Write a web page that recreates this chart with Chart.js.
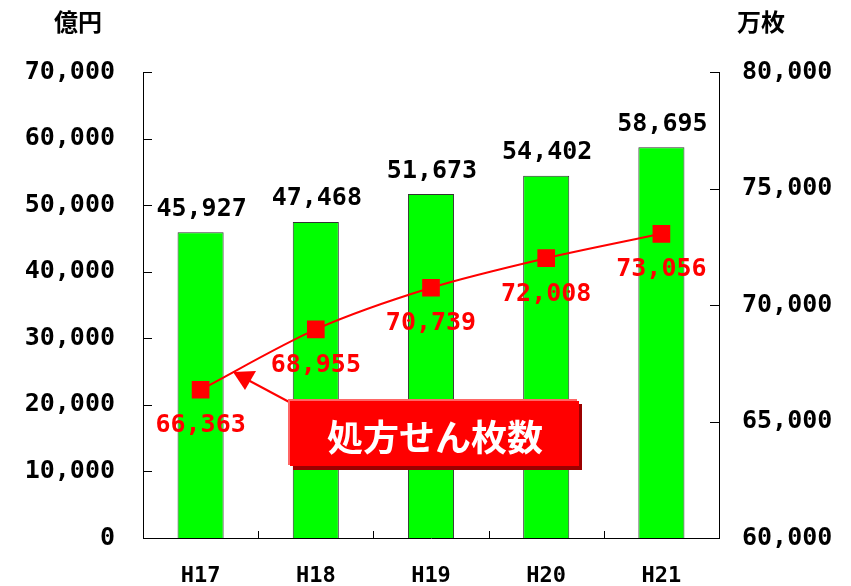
<!DOCTYPE html>
<html>
<head>
<meta charset="utf-8">
<script src="https://cdn.jsdelivr.net/npm/chart.js@4.4.1/dist/chart.umd.min.js"></script>
<style>
  html, body { margin: 0; padding: 0; background: #fff; }
  canvas { display: block; }
</style>
</head>
<body>
<canvas id="chart" width="851" height="586"></canvas>
<script>
// data
const years = ['H17', 'H18', 'H19', 'H20', 'H21'];
const costOku = [45927, 47468, 51673, 54402, 58695];     // 億円 (bars, left axis)
const sheetsMan = [66363, 68955, 70739, 72008, 73056];   // 万枚 (line, right axis)
const leftTicks = [0, 10000, 20000, 30000, 40000, 50000, 60000, 70000];
const rightTicks = [60000, 65000, 70000, 75000, 80000];

const numFont = 'bold 25px "DejaVu Sans Mono", monospace';
const jpFont = '"Noto Sans CJK JP", sans-serif';
const fmt = v => v.toLocaleString('en-US');

// inward tick marks, value labels, titles and the callout box
const decorations = {
    id: 'decorations',
    afterDatasetsDraw(chart) {
        const ctx = chart.ctx;
        const area = chart.chartArea;
        const x = chart.scales.x, y = chart.scales.y, y2 = chart.scales.y2;
        ctx.save();

        // tick marks pointing into the plot
        ctx.strokeStyle = '#000';
        ctx.lineWidth = 1;
        ctx.beginPath();
        leftTicks.forEach(v => {
            const py = Math.round(y.getPixelForValue(v)) + 0.5;
            ctx.moveTo(area.left, py); ctx.lineTo(area.left + 9, py);
        });
        rightTicks.forEach(v => {
            const py = Math.round(y2.getPixelForValue(v)) + 0.5;
            ctx.moveTo(area.right, py); ctx.lineTo(area.right - 9, py);
        });
        for (let i = 1; i < years.length; i++) {
            const px = Math.round((x.getPixelForValue(i - 1) + x.getPixelForValue(i)) / 2) + 0.5;
            ctx.moveTo(px, area.bottom); ctx.lineTo(px, area.bottom - 7);
        }
        ctx.stroke();

        // value labels
        ctx.font = numFont;
        ctx.textAlign = 'center';
        ctx.textBaseline = 'middle';
        ctx.fillStyle = '#000';
        chart.getDatasetMeta(1).data.forEach((bar, i) => {
            ctx.fillText(fmt(costOku[i]), bar.x + 1, bar.y - 23);
        });
        ctx.fillStyle = '#ff0000';
        chart.getDatasetMeta(0).data.forEach((pt, i) => {
            ctx.fillText(fmt(sheetsMan[i]), pt.x, pt.y + 36);
        });

        // unit titles
        ctx.fillStyle = '#000';
        ctx.font = 'bold 24px ' + jpFont;
        ctx.fillText('億円', 78, 22);
        ctx.fillText('万枚', 761, 22);

        // callout arrow
        ctx.strokeStyle = '#ff0000';
        ctx.fillStyle = '#ff0000';
        ctx.lineWidth = 2;
        ctx.beginPath();
        ctx.moveTo(291, 403); ctx.lineTo(248, 380);
        ctx.stroke();
        ctx.beginPath();
        ctx.moveTo(233, 372); ctx.lineTo(256, 371); ctx.lineTo(245, 390);
        ctx.closePath();
        ctx.fill();

        // callout box with shadow
        ctx.fillStyle = '#9b0000';
        ctx.fillRect(293, 404, 289, 66);
        ctx.fillStyle = '#ff6666';
        ctx.fillRect(288, 399, 289, 66);
        ctx.fillStyle = '#ff0000';
        ctx.fillRect(290, 401, 289, 65);
        ctx.fillStyle = '#fff';
        ctx.font = 'bold 36px ' + jpFont;
        ctx.fillText('処方せん枚数', 435, 437);

        ctx.restore();
    }
};

new Chart(document.getElementById('chart'), {
    data: {
        labels: years,
        datasets: [
            {
                type: 'line',
                label: '処方せん枚数',
                data: sheetsMan,
                yAxisID: 'y2',
                borderColor: '#ff0000',
                borderWidth: 2,
                tension: 0.3,
                pointStyle: 'rect',
                pointRadius: 12.5,
                pointBackgroundColor: '#ff0000',
                pointBorderWidth: 0,
                order: 1
            },
            {
                type: 'bar',
                label: '億円',
                data: costOku,
                yAxisID: 'y',
                backgroundColor: '#00ff00',
                borderColor: '#333333',
                borderWidth: 1,
                barPercentage: 0.4,
                categoryPercentage: 1,
                order: 2
            }
        ]
    },
    options: {
        responsive: false,
        animation: false,
        layout: { padding: { top: 72, right: 0, left: 0, bottom: 0 } },
        plugins: { legend: { display: false }, tooltip: { enabled: false } },
        scales: {
            x: {
                grid: { display: false, drawTicks: false },
                border: { display: true, color: '#000', width: 1 },
                ticks: { color: '#000', font: { family: '"DejaVu Sans Mono", monospace', size: 22, weight: 'bold' }, padding: 25 },
                afterFit(s) { s.height = 48; }
            },
            y: {
                position: 'left',
                min: 0, max: 70000,
                grid: { display: false, drawTicks: false },
                border: { display: true, color: '#000', width: 1 },
                ticks: {
                    stepSize: 10000, color: '#000', padding: 28,
                    font: { family: '"DejaVu Sans Mono", monospace', size: 25, weight: 'bold' },
                    callback: v => fmt(v)
                },
                afterFit(s) { s.width = 143; }
            },
            y2: {
                position: 'right',
                min: 60000, max: 80000,
                grid: { display: false, drawTicks: false },
                border: { display: true, color: '#000', width: 1 },
                ticks: {
                    stepSize: 5000, color: '#000', padding: 23,
                    font: { family: '"DejaVu Sans Mono", monospace', size: 25, weight: 'bold' },
                    callback: v => fmt(v)
                },
                afterFit(s) { s.width = 132; }
            }
        }
    },
    plugins: [decorations]
});
</script>
</body>
</html>
